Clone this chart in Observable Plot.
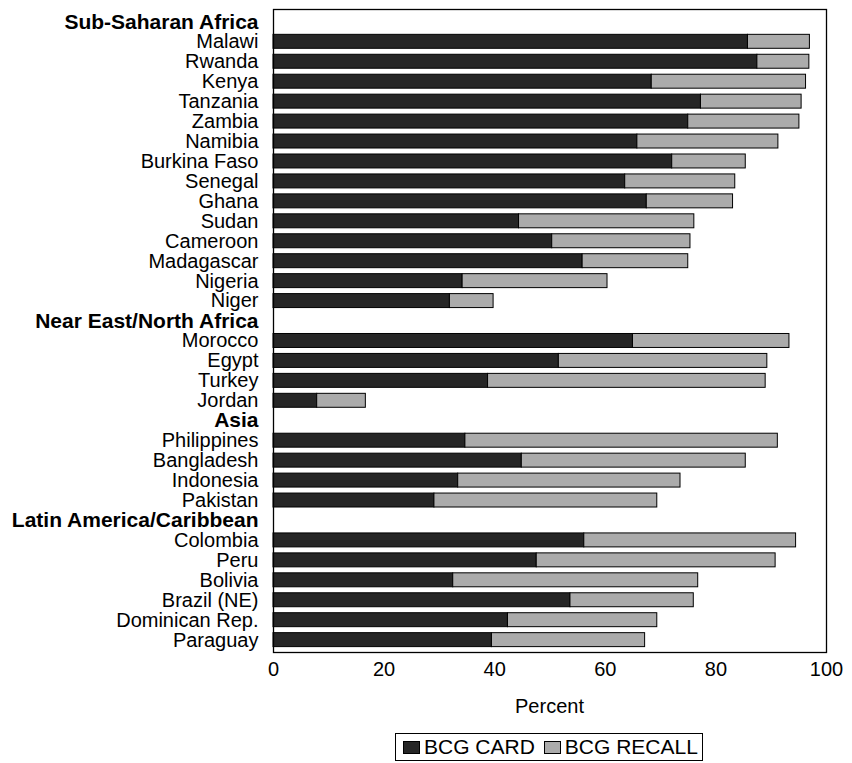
<!DOCTYPE html>
<html>
<head>
<meta charset="utf-8">
<script src="https://cdn.jsdelivr.net/npm/d3@7"></script>
<script src="https://cdn.jsdelivr.net/npm/@observablehq/plot@0.6"></script>
<style>
  html, body { margin: 0; padding: 0; background: #fff; }
  body { width: 852px; font-family: "Liberation Sans", Arial, sans-serif; color: #000; }
  #xlabel { height: 32px; line-height: 32px; font-size: 20px; text-align: center; width: 553px; margin-left: 273px; }
  #legend { margin-top: 11px; margin-left: 395px; display: inline-flex; align-items: center; border: 1px solid #000; height: 28px; padding: 0 4px 0 7px; font-size: 21px; box-sizing: border-box; }
  .sw { display: inline-block; width: 17px; height: 13px; border: 1px solid #000; box-sizing: border-box; margin-right: 4px; }
  .item { display: inline-flex; align-items: center; margin-right: 9px; }
  .item:last-child { margin-right: 0; }
</style>
</head>
<body>
<div id="chart"></div>
<div id="xlabel">Percent</div>
<div id="legend"></div>
<script>
// Row order (tick labels), including region headers
const rows = [
  "Sub-Saharan Africa", "Malawi", "Rwanda", "Kenya", "Tanzania", "Zambia", "Namibia",
  "Burkina Faso", "Senegal", "Ghana", "Sudan", "Cameroon", "Madagascar", "Nigeria", "Niger",
  "Near East/North Africa", "Morocco", "Egypt", "Turkey", "Jordan",
  "Asia", "Philippines", "Bangladesh", "Indonesia", "Pakistan",
  "Latin America/Caribbean", "Colombia", "Peru", "Bolivia", "Brazil (NE)", "Dominican Rep.", "Paraguay"
];
const regions = ["Sub-Saharan Africa", "Near East/North Africa", "Asia", "Latin America/Caribbean"];
const countries = [
  "Malawi", "Rwanda", "Kenya", "Tanzania", "Zambia", "Namibia", "Burkina Faso", "Senegal", "Ghana",
  "Sudan", "Cameroon", "Madagascar", "Nigeria", "Niger",
  "Morocco", "Egypt", "Turkey", "Jordan",
  "Philippines", "Bangladesh", "Indonesia", "Pakistan",
  "Colombia", "Peru", "Bolivia", "Brazil (NE)", "Dominican Rep.", "Paraguay"
];
const bcgCard = [
  85.8, 87.5, 68.4, 77.3, 75.0, 65.8, 72.1, 63.6, 67.5,
  44.4, 50.4, 55.9, 34.2, 31.9,
  65.0, 51.6, 38.8, 7.9,
  34.7, 44.9, 33.4, 29.1,
  56.2, 47.6, 32.5, 53.7, 42.4, 39.5
];
const bcgRecall = [
  11.2, 9.4, 27.9, 18.2, 20.1, 25.5, 13.3, 19.9, 15.6,
  31.7, 25.0, 19.1, 26.2, 7.9,
  28.3, 37.7, 50.2, 8.8,
  56.5, 40.5, 40.2, 40.3,
  38.3, 43.2, 44.3, 22.3, 27.0, 27.7
];
const seriesNames = ["BCG CARD", "BCG RECALL"];
const seriesColors = ["#262626", "#ababab"];
const xTicks = [0, 20, 40, 60, 80, 100];

const data = [];
countries.forEach((c, i) => {
  data.push({row: c, series: seriesNames[0], value: bcgCard[i]});
  data.push({row: c, series: seriesNames[1], value: bcgRecall[i]});
});

const chart = Plot.plot({
  width: 852,
  height: 690,
  marginLeft: 273,
  marginRight: 26,
  marginTop: 9,
  marginBottom: 38,
  style: {fontFamily: "'Liberation Sans', Arial, sans-serif", background: "#fff", color: "#000"},
  x: {domain: [0, 100], ticks: xTicks},
  y: {domain: rows, paddingInner: 0.3, paddingOuter: 0.27, round: false, axis: null},
  color: {domain: seriesNames, range: seriesColors},
  marks: [
    Plot.barX(data, Plot.stackX({y: "row", x: "value", fill: "series", stroke: "#000", strokeWidth: 1, order: seriesNames})),
    Plot.text(rows.filter(r => !regions.includes(r)), {y: d => d, frameAnchor: "left", dx: -15, textAnchor: "end", fontSize: 20, fill: "#000"}),
    Plot.text(regions, {y: d => d, frameAnchor: "left", dx: -15, textAnchor: "end", fontSize: 21, fontWeight: "bold", fill: "#000"}),
    Plot.axisX({ticks: xTicks, tickSize: 0, tickPadding: 9, fontSize: 20, label: null}),
    Plot.frame({stroke: "#000", strokeWidth: 1.3})
  ]
});
document.getElementById("chart").appendChild(chart);

const legend = document.getElementById("legend");
seriesNames.forEach((name, i) => {
  const item = document.createElement("span");
  item.className = "item";
  const sw = document.createElement("span");
  sw.className = "sw";
  sw.style.background = seriesColors[i];
  item.appendChild(sw);
  item.appendChild(document.createTextNode(name));
  legend.appendChild(item);
});
</script>
</body>
</html>
